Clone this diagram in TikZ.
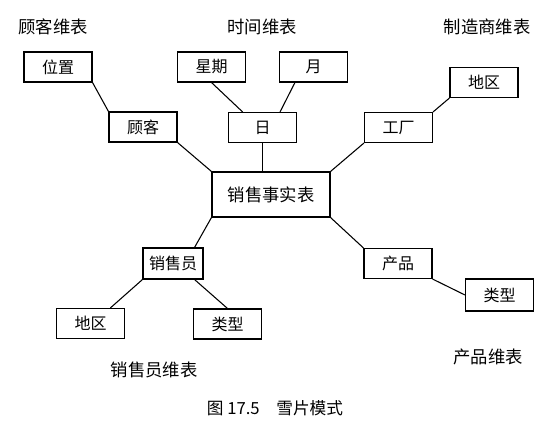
\documentclass[tikz,border=0pt]{standalone}
\usepackage{fontspec}
\newfontfamily\cjk{Noto Sans CJK SC}

\begin{document}
\begin{tikzpicture}[x=0.75pt,y=-0.75pt,
  tbl/.style={draw,thick,fill=white,minimum width=51pt,minimum height=22.5pt,inner sep=0pt,font=\cjk\fontsize{12}{14}\selectfont},
  dimlabel/.style={font=\cjk\fontsize{13}{15}\selectfont}]
\useasboundingbox (0,0) rectangle (554,438);

% dimension tables
\node[tbl] (loc) at (58,67) {位置};
\node[tbl] (cust) at (143,127) {顾客};
\node[tbl] (week) at (211.5,67) {星期};
\node[tbl] (month) at (313.5,67) {月};
\node[tbl] (day) at (262.5,127.5) {日};
\node[tbl] (factory) at (398.5,127.5) {工厂};
\node[tbl] (regm) at (484,82.5) {地区};
\node[tbl,minimum width=45pt,minimum height=23.25pt] (sales) at (173,263.5) {销售员};
\node[tbl] (regs) at (90.5,323.5) {地区};
\node[tbl] (typs) at (227.5,324) {类型};
\node[tbl] (prod) at (398,263.5) {产品};
\node[tbl,minimum height=24pt] (typp) at (499.5,295) {类型};

% fact table
\node[tbl,minimum width=88.5pt,minimum height=33.75pt,font=\cjk\fontsize{13}{15}\selectfont] (fact) at (271,194.5) {销售事实表};

% labels
\node[dimlabel] (lcust) at (53,27) {顾客维表};
\node[dimlabel] (ltime) at (262,27) {时间维表};
\node[dimlabel] (lmanu) at (487,27) {制造商维表};
\node[dimlabel] (lsales) at (154,370) {销售员维表};
\node[dimlabel] (lprod) at (488,357) {产品维表};
\node[font=\cjk\fontsize{12.5}{14}\selectfont] (cap) at (275,408) {图 17.5\quad 雪片模式};

\path[draw,thick,-] (loc.south east) -- (cust.north west);
\path[draw,thick,-] (cust.south east) -- (fact.north west);
\path[draw,thick,-] (week.south) -- ([xshift=11pt]day.north west);
\path[draw,thick,-] ([xshift=12pt]month.south west) -- ([xshift=-12.75pt]day.north east);
\path[draw,thick,-] (day.south) -- (day.south |- fact.north);
\path[draw,thick,-] (factory.south west) -- (fact.north east);
\path[draw,thick,-] (regm.south west) -- (factory.north east);
\path[draw,thick,-] (fact.south east) -- (prod.north west);
\path[draw,thick,-] (prod.south east) -- (typp.west);
\path[draw,thick,-] (fact.south west) -- ([xshift=-6.75pt]sales.north east);
\path[draw,thick,-] (sales.south west) -- ([xshift=-11pt]regs.north east);
\path[draw,thick,-] ([xshift=-6.75pt]sales.south east) -- (typs.north);
\end{tikzpicture}
\end{document}
